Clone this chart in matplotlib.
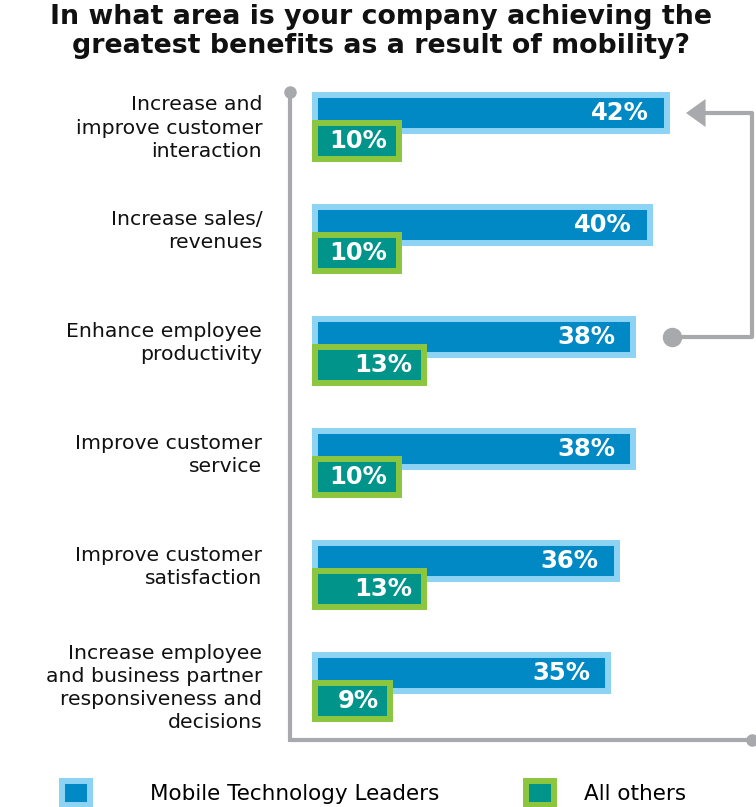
import matplotlib.pyplot as plt
from matplotlib.patches import Patch

plt.rcParams['font.family'] = ['DejaVu Sans']

# ------------------------------------------------------------
# data
categories = [
    "Increase and\nimprove customer\ninteraction",
    "Increase sales/\nrevenues",
    "Enhance employee\nproductivity",
    "Improve customer\nservice",
    "Improve customer\nsatisfaction",
    "Increase employee\nand business partner\nresponsiveness and\ndecisions",
]
leaders = [42, 40, 38, 38, 36, 35]
others = [10, 10, 13, 10, 13, 9]
series_names = ["Mobile Technology Leaders", "All others"]

title = ("In what area is your company achieving the\n"
         "greatest benefits as a result of mobility?")

# colours
light_blue = '#8dd3f4'
dark_blue = '#0089c4'
green = '#8cc63f'
teal = '#00948a'
grey = '#a7a9ac'

# ------------------------------------------------------------
fig = plt.figure(figsize=(7.56, 8.07), dpi=100)
ax = fig.add_axes([0, 0, 1, 1])
ax.set_xlim(-37.58, 52.62)
ax.set_ylim(6.071, -1.134)
ax.axis('off')

idx = list(range(len(categories)))
bar_h = 0.321
off = 0.125
border = 4.3

ax.barh([i - off for i in idx], leaders, height=bar_h, left=0,
        color=dark_blue, edgecolor=light_blue, linewidth=border, zorder=3)
ax.barh([i + off for i in idx], others, height=bar_h, left=0,
        color=teal, edgecolor=green, linewidth=border, zorder=4)

for i, (a, b) in enumerate(zip(leaders, others)):
    ax.text(a - 2.2, i - off, f"{a}%", ha='right', va='center',
            color='white', fontsize=17.5, fontweight='bold', zorder=5)
    ax.text(b - 1.4, i + off, f"{b}%", ha='right', va='center',
            color='white', fontsize=17.5, fontweight='bold', zorder=5)
    # two-line labels sit a little higher in the original
    nlines = categories[i].count('\n') + 1
    dy = -0.07 if nlines == 2 else 0.01
    ax.text(-6.3, i + dy, categories[i], ha='right', va='center',
            fontsize=14.7, linespacing=1.28, color='#111111')

# grey frame line at the left and bottom
ax.plot([-2.98, -2.98, 52.14], [-0.3125, 5.473, 5.473], color=grey,
        lw=3, solid_capstyle='butt', solid_joinstyle='miter', zorder=2)
ax.plot([-2.98], [-0.3125], 'o', color=grey, ms=8, zorder=2)
ax.plot([52.14], [5.473], 'o', color=grey, ms=8, zorder=2)

# arrow from productivity back to customer interaction
ax.plot([42.6, 52.14, 52.14, 46.0], [1.875, 1.875, -0.125, -0.125],
        color=grey, lw=3, solid_joinstyle='round', zorder=2)
ax.plot([42.6], [1.875], 'o', color=grey, ms=13, zorder=2)
ax.fill([44.27, 46.6, 46.6], [-0.125, -0.25, 0.0], color=grey, lw=0,
        zorder=2)

fig.text(381 / 756, 1 - 4 / 807, title, ha='center', va='top',
         fontsize=19.3, fontweight='bold', linespacing=1.15, color='#111111')

handles = [
    Patch(facecolor=dark_blue, edgecolor=light_blue, linewidth=border),
    Patch(facecolor=teal, edgecolor=green, linewidth=border),
]
fig.legend(handles[:1], series_names[:1], loc='center left',
           bbox_to_anchor=(62 / 756, 1 - 793 / 807), frameon=False,
           fontsize=15.5, handlelength=1.3, handleheight=1.3,
           handletextpad=2.8, borderpad=0, borderaxespad=0)
fig.legend(handles[1:], series_names[1:], loc='center left',
           bbox_to_anchor=(526 / 756, 1 - 793 / 807), frameon=False,
           fontsize=15.5, handlelength=1.3, handleheight=1.3,
           handletextpad=1.4, borderpad=0, borderaxespad=0)

fig.savefig('out.png', dpi=100)
